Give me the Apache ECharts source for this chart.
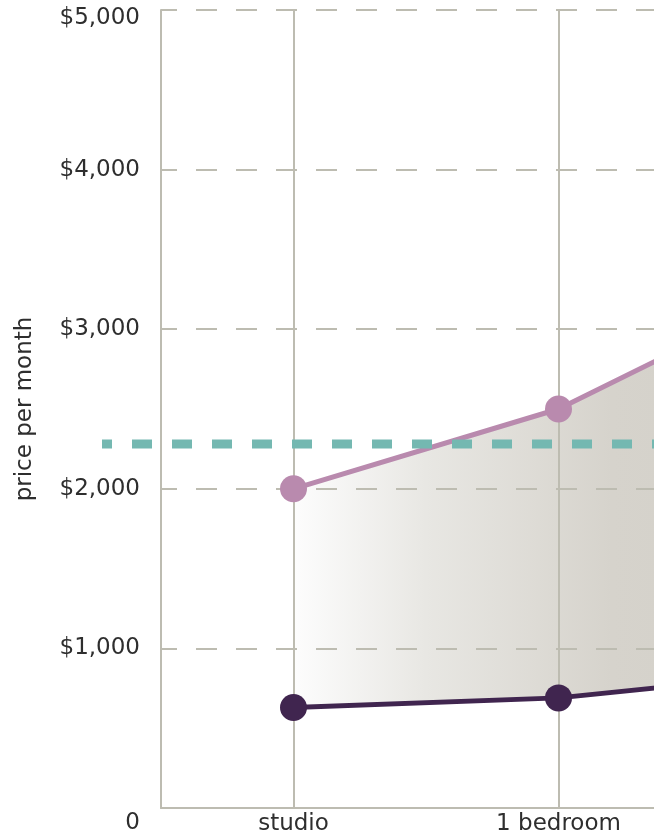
<!DOCTYPE html>
<html>
<head>
<meta charset="utf-8">
<script src="https://cdn.jsdelivr.net/npm/echarts@6/dist/echarts.min.js"></script>
<style>
  html, body { margin: 0; padding: 0; background: #ffffff; }
  #frame { width: 654px; height: 837px; overflow: hidden; position: relative; }
  #chart { width: 1000px; height: 837px; }
</style>
</head>
<body>
<div id="frame"><div id="chart"></div></div>
<script>
// Unit types along the x axis
const categories = ['studio', '1 bedroom', '2 bedroom'];
// Upper and lower monthly rent for each unit type
const highRent = [2000, 2500, 3320];
const lowRent = [630, 690, 860];
// Affordable-rent reference level
const referenceRent = 2280;
// Y axis ticks
const yTicks = [0, 1000, 2000, 3000, 4000, 5000];

const gridColor = '#bdbcb1';
const textColor = '#2e2e2e';
const fontFamily = '"DejaVu Sans", sans-serif';
const fontSize = 23;

const bandSpan = highRent.map((v, i) => v - lowRent[i]);

const chart = echarts.init(document.getElementById('chart'), null, { renderer: 'canvas' });

chart.setOption({
  animation: false,
  grid: [
    { left: 161, width: 795, top: 10, bottom: 29, containLabel: false, outerBoundsMode: 'none' },
    { left: 102, right: 0, top: 10, bottom: 29, containLabel: false, outerBoundsMode: 'none' }
  ],
  xAxis: [
    {
      type: 'category',
      gridIndex: 0,
      data: categories,
      boundaryGap: true,
      axisLine: { lineStyle: { color: gridColor, width: 2 } },
      axisTick: { show: false },
      splitLine: { show: false },
      axisLabel: { color: textColor, fontSize: fontSize, fontFamily: fontFamily, margin: 5 }
    },
    { type: 'value', gridIndex: 1, min: 0, max: 1, show: false }
  ],
  yAxis: [
    {
      type: 'value',
      gridIndex: 0,
      min: yTicks[0],
      max: yTicks[yTicks.length - 1],
      interval: yTicks[1] - yTicks[0],
      z: 1.5,
      name: 'price per month',
      nameLocation: 'middle',
      nameGap: 124,
      nameTextStyle: { color: textColor, fontSize: fontSize, fontFamily: fontFamily },
      axisLine: { show: true, lineStyle: { color: gridColor, width: 2 } },
      axisTick: { show: false },
      splitLine: {
        show: true,
        showMinLine: false,
        lineStyle: { color: gridColor, width: 2, type: [21, 19], dashOffset: 5 }
      },
      axisLabel: {
        color: textColor,
        fontSize: fontSize,
        fontFamily: fontFamily,
        margin: 21,
        formatter: function (v) {
          if (v === yTicks[0]) return '{zero|0}';
          const txt = '$' + v.toLocaleString('en-US');
          if (v === yTicks[yTicks.length - 1]) return '{top|' + txt + '}';
          return txt;
        },
        rich: {
          zero: { color: textColor, fontSize: fontSize, fontFamily: fontFamily, padding: [30, 0, 0, 0] },
          top: { color: textColor, fontSize: fontSize, fontFamily: fontFamily, padding: [16, 0, 0, 0] }
        }
      }
    },
    { type: 'value', gridIndex: 1, min: yTicks[0], max: yTicks[yTicks.length - 1], show: false }
  ],
  series: [
    {
      name: 'base',
      type: 'line',
      xAxisIndex: 0, yAxisIndex: 0,
      data: lowRent,
      stack: 'band',
      symbol: 'none',
      lineStyle: { opacity: 0 },
      silent: true,
      z: 1
    },
    {
      name: 'band',
      type: 'line',
      xAxisIndex: 0, yAxisIndex: 0,
      data: bandSpan,
      stack: 'band',
      symbol: 'none',
      lineStyle: { opacity: 0 },
      silent: true,
      z: 1,
      areaStyle: {
        opacity: 1,
        color: new echarts.graphic.LinearGradient(0, 0, 1, 0, [
          { offset: 0, color: '#fdfdfd' },
          { offset: 0.25, color: '#e8e7e3' },
          { offset: 0.6, color: '#d6d3cc' },
          { offset: 1, color: '#d2cfc7' }
        ])
      },
      markLine: {
        silent: true,
        z: 2,
        symbol: ['none', 'none'],
        label: { show: false },
        lineStyle: { color: gridColor, width: 2, type: 'solid' },
        data: categories.map(c => ({ xAxis: c }))
      }
    },
    {
      name: 'high',
      type: 'line',
      xAxisIndex: 0, yAxisIndex: 0,
      data: highRent,
      symbol: 'circle',
      symbolSize: 27,
      color: '#b98aae',
      lineStyle: { color: '#b98aae', width: 5 },
      itemStyle: { color: '#b98aae' },
      z: 3
    },
    {
      name: 'low',
      type: 'line',
      xAxisIndex: 0, yAxisIndex: 0,
      data: lowRent,
      symbol: 'circle',
      symbolSize: 27,
      color: '#40254f',
      lineStyle: { color: '#40254f', width: 5 },
      itemStyle: { color: '#40254f' },
      z: 3
    },
    {
      name: 'reference',
      type: 'line',
      xAxisIndex: 1, yAxisIndex: 1,
      data: [[0, referenceRent], [1, referenceRent]],
      symbol: 'none',
      lineStyle: { color: '#74b8b1', width: 9, type: [20, 20], dashOffset: 10, cap: 'butt' },
      silent: true,
      z: 4
    }
  ]
});
</script>
</body>
</html>
